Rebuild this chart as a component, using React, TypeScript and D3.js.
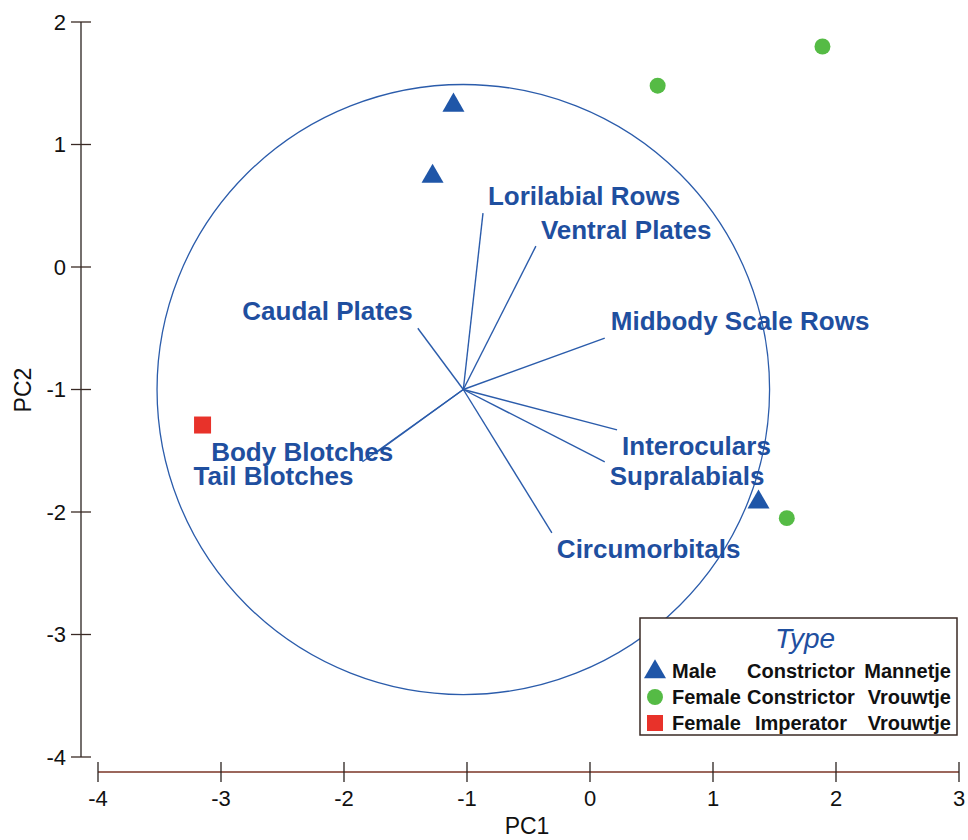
import React, { useEffect, useRef } from "react";
import * as d3 from "d3";

// PCA scores (PC1, PC2)
const maleConstrictor = [
  [-1.11, 1.32],
  [-1.28, 0.74],
  [1.37, -1.92],
];
const femaleConstrictor = [
  [0.55, 1.48],
  [1.89, 1.8],
  [1.6, -2.05],
];
const femaleImperator = [[-3.15, -1.29]];

// loading vectors, drawn from the biplot origin
const biplotOrigin = [-1.03, -1];
const circleRadius = 2.49;
const variables = [
  "Lorilabial Rows",
  "Ventral Plates",
  "Midbody Scale Rows",
  "Caudal Plates",
  "Body Blotches",
  "Tail Blotches",
  "Interoculars",
  "Supralabials",
  "Circumorbitals",
];
const loadingsPC1 = [0.16, 0.59, 1.15, -0.37, -0.7, -0.82, 1.25, 1.15, 0.72];
const loadingsPC2 = [1.44, 1.17, 0.42, 0.5, -0.51, -0.59, -0.33, -0.59, -1.17];

const xTicks = [-4, -3, -2, -1, 0, 1, 2, 3];
const yTicks = [-4, -3, -2, -1, 0, 1, 2];

const legendTitle = "Type";
const legendRows = [
  ["Male", "Constrictor", "Mannetje"],
  ["Female", "Constrictor", "Vrouwtje"],
  ["Female", "Imperator", "Vrouwtje"],
];

// label placement relative to vector tip (pixels)
const labelLayout = {
  "Lorilabial Rows": { dx: 5, dy: -8, anchor: "start" },
  "Ventral Plates": { dx: 5, dy: -7, anchor: "start" },
  "Midbody Scale Rows": { dx: 6, dy: -8, anchor: "start" },
  "Caudal Plates": { dx: -5, dy: -8, anchor: "end" },
  "Body Blotches": { dx: 16, dy: 9, anchor: "end" },
  "Tail Blotches": { dx: -9, dy: 23, anchor: "end" },
  Interoculars: { dx: 5, dy: 25, anchor: "start" },
  Supralabials: { dx: 5, dy: 23, anchor: "start" },
  Circumorbitals: { dx: 5, dy: 25, anchor: "start" },
};

const BLUE_TEXT = "#1f4f9f";
const BLUE_LINE = "#2b5cab";
const TRI = "#1f56a8";
const GREEN = "#55bb45";
const RED = "#e8322a";
const FONT = "'Liberation Sans', Arial, sans-serif";

function App() {
  const svgRef = useRef();

  useEffect(() => {
    const width = 968;
    const height = 840;
    const svg = d3.select(svgRef.current).attr("width", width).attr("height", height);
    svg.selectAll("*").remove();

    const x = d3.scaleLinear().domain([-4, 3]).range([98, 959]);
    const y = d3.scaleLinear().domain([-4, 2]).range([757, 22]);

    // Y axis
    const yAxisX = 81;
    const yg = svg.append("g");
    yg.append("line")
      .attr("x1", yAxisX).attr("x2", yAxisX)
      .attr("y1", y(-4)).attr("y2", y(2))
      .attr("stroke", "#2a2220").attr("stroke-width", 1.3);
    yg.selectAll(".tick")
      .data(yTicks)
      .join("line")
      .attr("x1", yAxisX - 10).attr("x2", yAxisX + 10)
      .attr("y1", (d) => y(d)).attr("y2", (d) => y(d))
      .attr("stroke", "#3a2a25").attr("stroke-width", 1.3);
    yg.selectAll("text")
      .data(yTicks)
      .join("text")
      .attr("x", 66)
      .attr("y", (d) => y(d))
      .attr("dy", "0.36em")
      .attr("text-anchor", "end")
      .attr("font-family", FONT)
      .attr("font-size", 22)
      .attr("fill", "#111")
      .text((d) => d);

    // X axis
    const xAxisY = 772;
    const xg = svg.append("g");
    xg.append("line")
      .attr("x1", x(-4)).attr("x2", x(3))
      .attr("y1", xAxisY).attr("y2", xAxisY)
      .attr("stroke", "#7a3526").attr("stroke-width", 1.5);
    xg.selectAll(".tick")
      .data(xTicks)
      .join("line")
      .attr("x1", (d) => x(d)).attr("x2", (d) => x(d))
      .attr("y1", xAxisY - 10).attr("y2", xAxisY + 10)
      .attr("stroke", "#2a2220").attr("stroke-width", 1.3);
    xg.selectAll("text")
      .data(xTicks)
      .join("text")
      .attr("x", (d) => x(d))
      .attr("y", 806)
      .attr("text-anchor", "middle")
      .attr("font-family", FONT)
      .attr("font-size", 22)
      .attr("fill", "#111")
      .text((d) => d);

    // axis titles
    svg.append("text")
      .attr("x", 527).attr("y", 834)
      .attr("text-anchor", "middle")
      .attr("font-family", FONT).attr("font-size", 23).attr("fill", "#111")
      .text("PC1");
    svg.append("text")
      .attr("transform", `translate(31, 390) rotate(-90)`)
      .attr("text-anchor", "middle")
      .attr("font-family", FONT).attr("font-size", 23).attr("fill", "#111")
      .text("PC2");

    // correlation circle
    const ox = x(biplotOrigin[0]);
    const oy = y(biplotOrigin[1]);
    svg.append("ellipse")
      .attr("cx", ox).attr("cy", oy)
      .attr("rx", x(biplotOrigin[0] + circleRadius) - ox)
      .attr("ry", oy - y(biplotOrigin[1] + circleRadius))
      .attr("fill", "none")
      .attr("stroke", BLUE_LINE)
      .attr("stroke-width", 1.3);

    // loading vectors
    const vecs = variables.map((name, i) => ({
      name,
      tx: x(biplotOrigin[0] + loadingsPC1[i]),
      ty: y(biplotOrigin[1] + loadingsPC2[i]),
    }));
    svg.append("g")
      .selectAll("line")
      .data(vecs)
      .join("line")
      .attr("x1", ox).attr("y1", oy)
      .attr("x2", (d) => d.tx).attr("y2", (d) => d.ty)
      .attr("stroke", BLUE_LINE)
      .attr("stroke-width", 1.4);
    svg.append("g")
      .selectAll("text")
      .data(vecs)
      .join("text")
      .attr("x", (d) => d.tx + labelLayout[d.name].dx)
      .attr("y", (d) => d.ty + labelLayout[d.name].dy)
      .attr("text-anchor", (d) => labelLayout[d.name].anchor)
      .attr("font-family", FONT)
      .attr("font-weight", "bold")
      .attr("font-size", 26)
      .attr("fill", BLUE_TEXT)
      .text((d) => d.name);

    // points
    const tri = d3.symbol().type(d3.symbolTriangle).size(210);
    const circ = d3.symbol().type(d3.symbolCircle).size(200);
    svg.append("g")
      .selectAll("path")
      .data(maleConstrictor)
      .join("path")
      .attr("transform", (d) => `translate(${x(d[0])},${y(d[1])})`)
      .attr("d", tri)
      .attr("fill", TRI);
    svg.append("g")
      .selectAll("path")
      .data(femaleConstrictor)
      .join("path")
      .attr("transform", (d) => `translate(${x(d[0])},${y(d[1])})`)
      .attr("d", circ)
      .attr("fill", GREEN);
    svg.append("g")
      .selectAll("rect")
      .data(femaleImperator)
      .join("rect")
      .attr("x", (d) => x(d[0]) - 8.5)
      .attr("y", (d) => y(d[1]) - 8.5)
      .attr("width", 17)
      .attr("height", 17)
      .attr("fill", RED);

    // legend
    const lg = svg.append("g");
    lg.append("rect")
      .attr("x", 640).attr("y", 618)
      .attr("width", 317).attr("height", 117)
      .attr("fill", "white")
      .attr("stroke", "#3a2a25")
      .attr("stroke-width", 1.5);
    lg.append("text")
      .attr("x", 805).attr("y", 648)
      .attr("text-anchor", "middle")
      .attr("font-family", FONT)
      .attr("font-style", "italic")
      .attr("font-size", 28)
      .attr("fill", BLUE_TEXT)
      .text(legendTitle);
    const rowY = [678, 704, 730];
    const markers = [
      (g, cy) => g.append("path").attr("transform", `translate(655,${cy - 6})`).attr("d", tri).attr("fill", TRI),
      (g, cy) => g.append("path").attr("transform", `translate(655,${cy - 7})`).attr("d", circ).attr("fill", GREEN),
      (g, cy) => g.append("rect").attr("x", 647).attr("y", cy - 15).attr("width", 16).attr("height", 16).attr("fill", RED),
    ];
    legendRows.forEach((row, i) => {
      const g = lg.append("g");
      markers[i](g, rowY[i]);
      const cols = [
        { x: 672, anchor: "start" },
        { x: 801, anchor: "middle" },
        { x: 951, anchor: "end" },
      ];
      row.forEach((word, j) => {
        g.append("text")
          .attr("x", cols[j].x)
          .attr("y", rowY[i])
          .attr("text-anchor", cols[j].anchor)
          .attr("font-family", FONT)
          .attr("font-weight", "bold")
          .attr("font-size", 20)
          .attr("fill", "#111")
          .text(word);
      });
    });
  }, []);

  return <svg ref={svgRef} style={{ position: "absolute", left: 0, top: 0 }}></svg>;
}

export default App;
